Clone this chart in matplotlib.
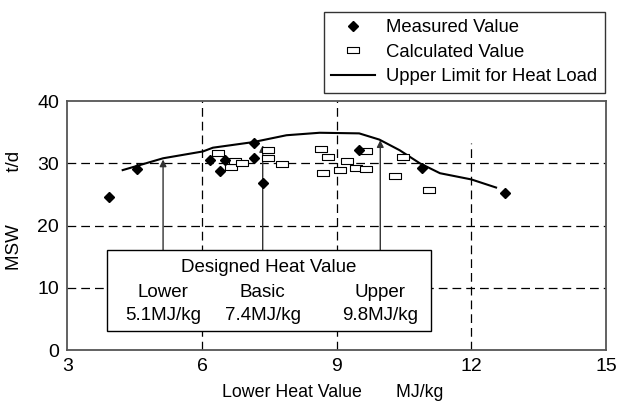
import matplotlib
matplotlib.use("Agg")
import matplotlib.pyplot as plt
from matplotlib.patches import Rectangle
from matplotlib.lines import Line2D

plt.rcParams["font.family"] = ["Liberation Sans", "DejaVu Sans"]

# Measured values (filled diamonds)
meas_x = [3.93, 4.55, 6.17, 6.40, 6.52, 7.15, 7.16, 7.35, 9.50, 10.89, 12.75]
meas_y = [24.6, 29.05, 30.5, 28.8, 30.5, 33.3, 30.8, 26.9, 32.2, 29.2, 25.3]

# Calculated values (open rectangles)
calc_x = [6.35, 6.64, 6.74, 6.89, 7.46, 7.46, 7.79, 8.64, 8.80, 8.70, 9.07,
          9.22, 9.43, 9.66, 9.66, 10.47, 10.30, 11.06]
calc_y = [31.6, 29.4, 30.3, 30.1, 32.1, 30.9, 29.9, 32.3, 31.0, 28.4, 28.9,
          30.4, 29.3, 32.0, 29.0, 31.0, 27.9, 25.7]

# Upper limit for heat load
lim_x = [4.23, 5.13, 6.02, 6.24, 7.14, 7.88, 8.62, 9.50, 9.95, 10.40, 10.85,
         11.30, 12.00, 12.55]
lim_y = [28.9, 30.8, 31.9, 32.5, 33.4, 34.5, 34.9, 34.8, 33.8, 32.1, 30.0,
         28.4, 27.4, 26.1]

# Designed heat values: label, value text, arrow x, arrow tip y
design_names = ["Lower", "Basic", "Upper"]
design_vals = ["5.1MJ/kg", "7.4MJ/kg", "9.8MJ/kg"]
design_x = [5.13, 7.35, 9.97]
design_tip = [30.6, 32.9, 33.7]

fig = plt.figure(figsize=(6.18, 4.05), dpi=100)
ax = fig.add_axes([0.1092, 0.1358, 0.8714, 0.6148])

ax.set_xlim(3, 15)
ax.set_ylim(0, 40)
ax.set_xticks([3, 6, 9, 12, 15])
ax.set_yticks([0, 10, 20, 30, 40])
ax.tick_params(length=0, labelsize=14, pad=6)
for s in ax.spines.values():
    s.set_color("#555555")
    s.set_linewidth(1.3)

dash = (0, (7, 4))
for yv in [10, 20, 30]:
    ax.axhline(yv, color="black", lw=0.9, ls=dash, zorder=1)
for xv in [6, 9]:
    ax.axvline(xv, color="black", lw=0.9, ls=dash, zorder=1)
ax.vlines(12, 0, 33.3, color="black", lw=0.9, ls=dash, zorder=1)

# Designed heat value box
box_x0, box_x1, box_y0, box_y1 = 3.88, 11.09, 3.1, 16.05
ax.add_patch(Rectangle((box_x0, box_y0), box_x1 - box_x0, box_y1 - box_y0,
                       facecolor="white", edgecolor="black", lw=1.0, zorder=3))
ax.text((box_x0 + box_x1) / 2, 13.3, "Designed Heat Value", ha="center",
        va="center", fontsize=13.5, zorder=4)
for name, val, xv, tip in zip(design_names, design_vals, design_x, design_tip):
    ax.annotate("", xy=(xv, tip), xytext=(xv, box_y1),
                arrowprops=dict(arrowstyle="-|>", color="#333333", lw=1.0,
                                mutation_scale=10, shrinkA=0, shrinkB=0),
                zorder=2)
    ax.text(xv, 9.2, name, ha="center", va="center", fontsize=13.5, zorder=4)
    ax.text(xv, 5.6, val, ha="center", va="center", fontsize=13.5, zorder=4)

ax.plot(lim_x, lim_y, color="black", lw=1.5, zorder=5)
rect_marker = [(-1, -0.55), (1, -0.55), (1, 0.55), (-1, 0.55), (-1, -0.55)]
ax.plot(calc_x, calc_y, ls="none", marker=rect_marker, ms=8.5, mfc="white",
        mec="black", mew=0.8, zorder=6)
ax.plot(meas_x, meas_y, ls="none", marker="D", ms=5, color="black", zorder=7)

ax.set_xlabel("Lower Heat Value       MJ/kg", fontsize=12.8, labelpad=8)
ax.xaxis.set_label_coords(0.492, -0.135)
ax.set_ylabel("MSW          t/d", fontsize=13.5)
ax.yaxis.set_label_coords(-0.083, 0.56)

handles = [
    Line2D([], [], ls="none", marker="D", ms=5, color="black"),
    Line2D([], [], ls="none", marker=rect_marker, ms=8.5, mfc="white",
           mec="black", mew=0.8),
    Line2D([], [], color="black", lw=1.5),
]
labels = ["Measured Value", "Calculated Value", "Upper Limit for Heat Load"]
leg = fig.legend(handles, labels, loc="upper right",
                 bbox_to_anchor=(605 / 618, 1 - 12 / 405), fontsize=13.3,
                 frameon=True, fancybox=False, edgecolor="black",
                 handlelength=2.4, handletextpad=0.6, borderpad=0.4,
                 labelspacing=0.4, borderaxespad=0)
leg.get_frame().set_linewidth(1.0)

fig.savefig("out.png", dpi=100)
